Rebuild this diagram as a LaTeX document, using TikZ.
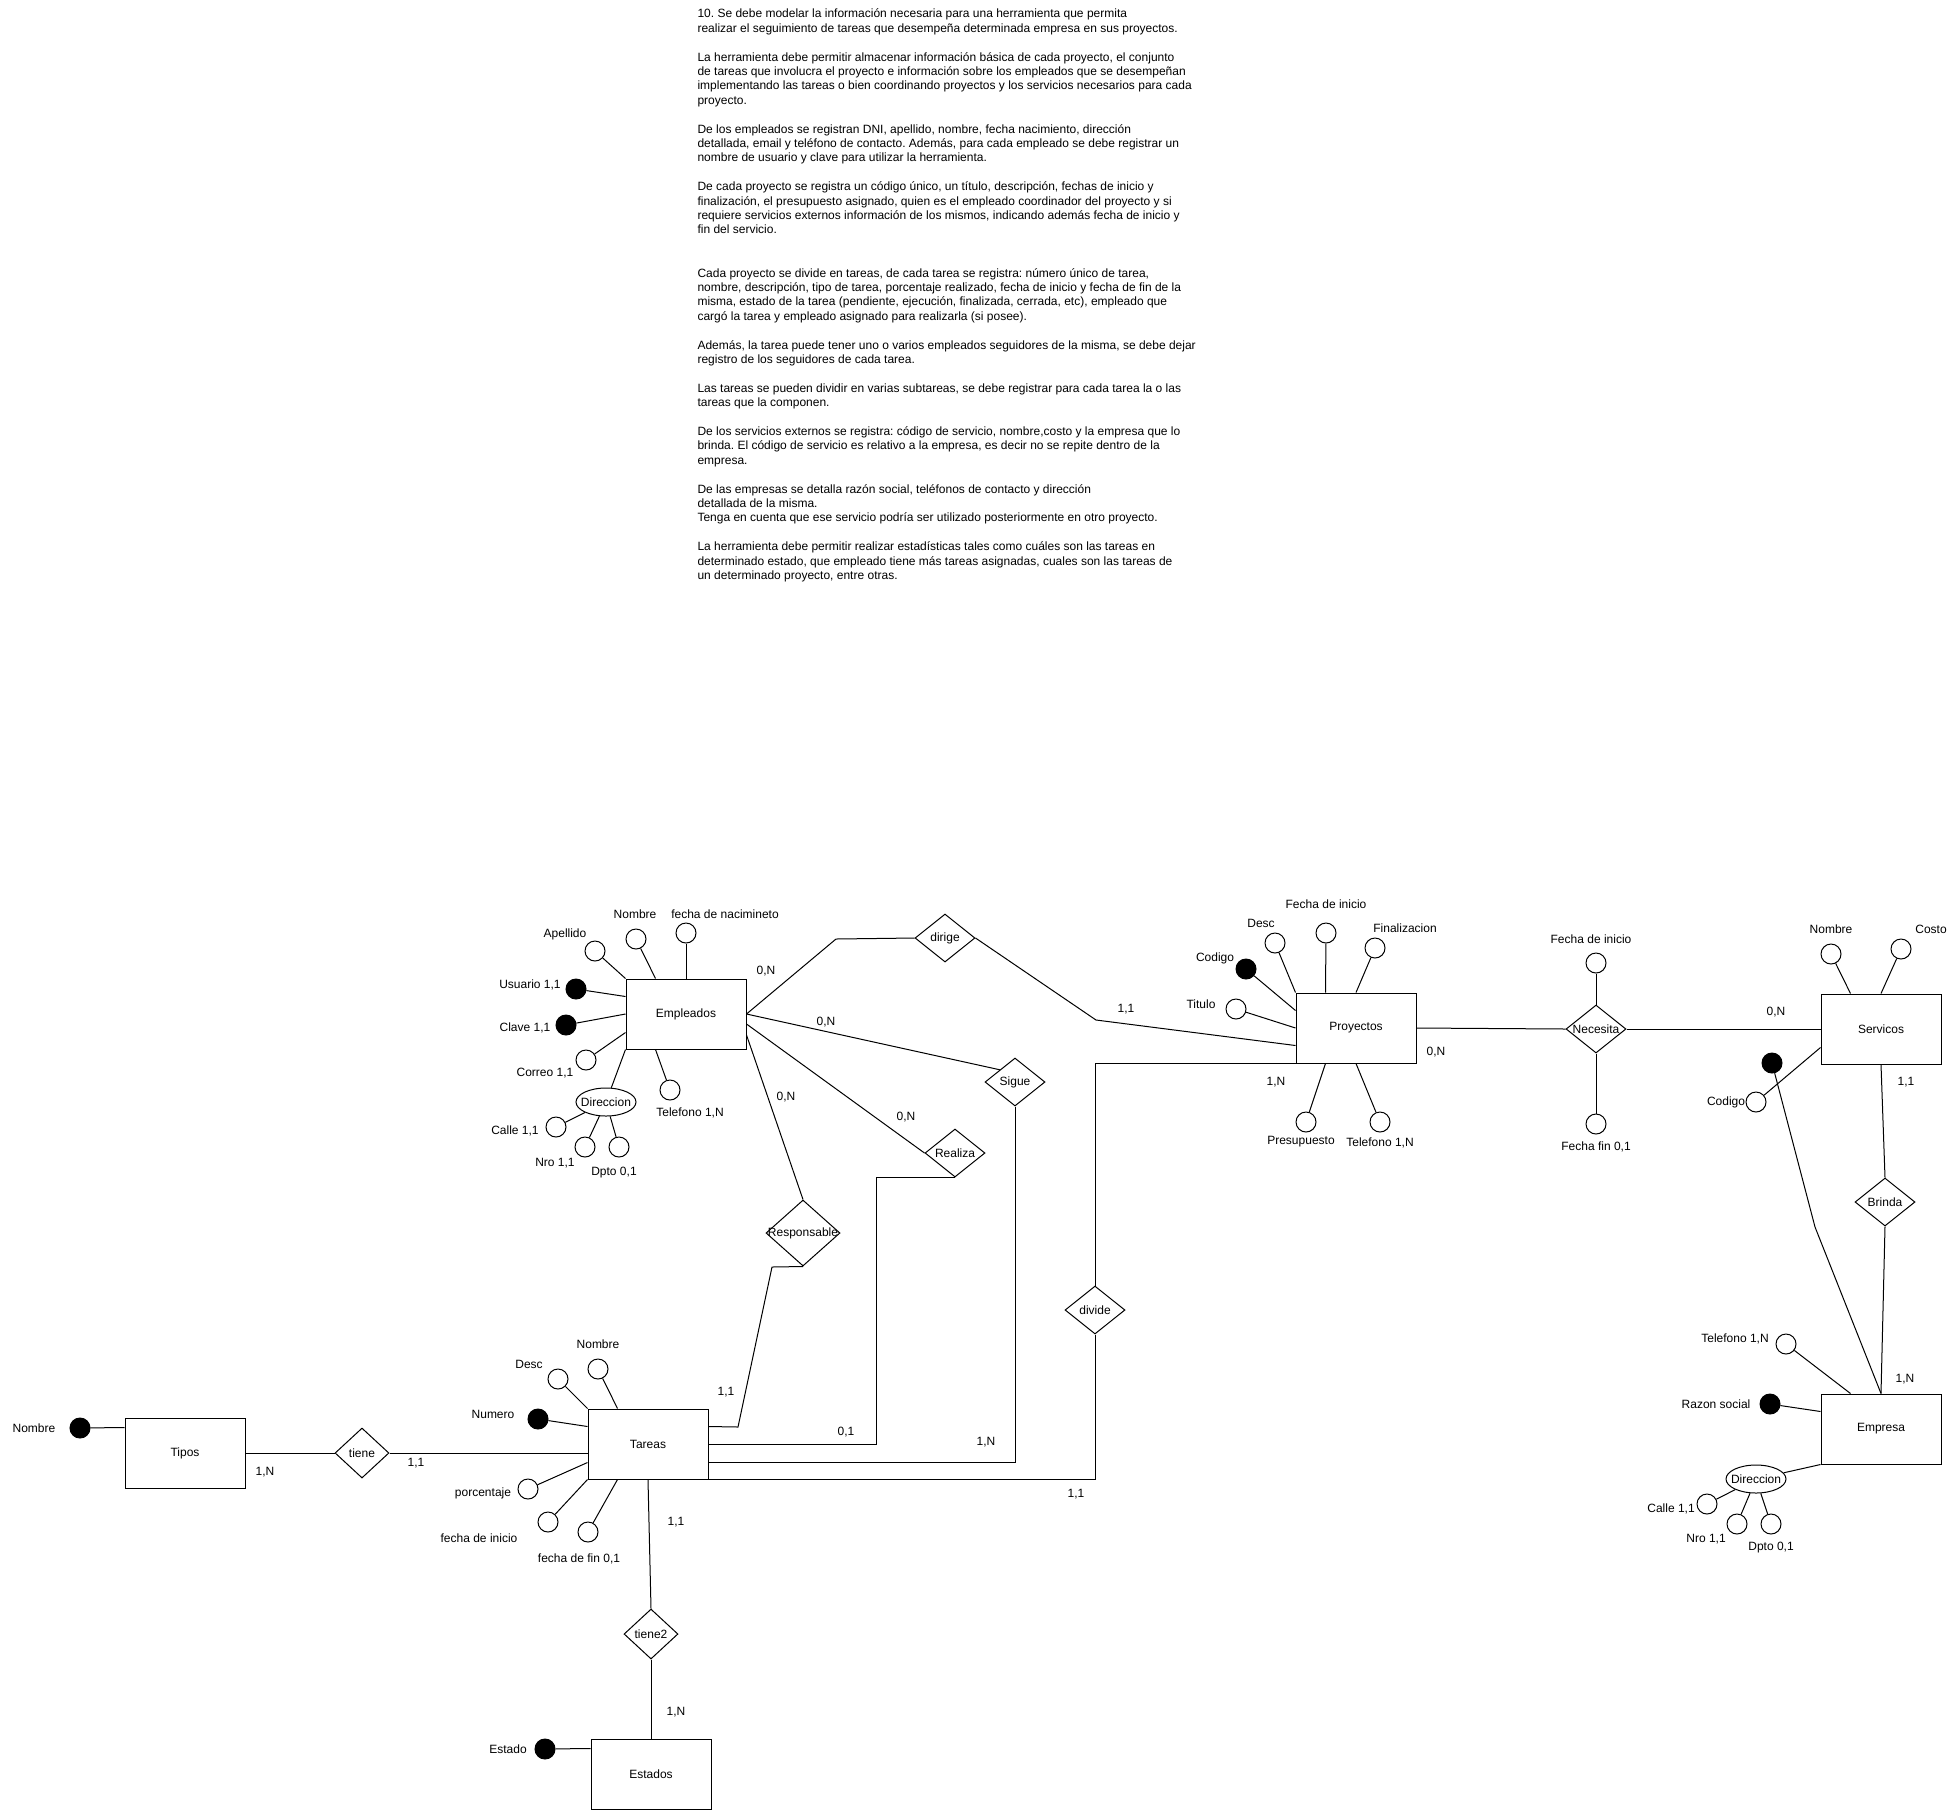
\documentclass[tikz,border=0pt]{standalone}
\usepackage{fontspec}
\setmainfont{Liberation Sans}
\usetikzlibrary{shapes.geometric,calc}
\frenchspacing
\begin{document}
\begin{tikzpicture}[x=0.75pt,y=-0.75pt,line width=0.75pt,
  every node/.style={font=\fontsize{9pt}{10.8pt}\selectfont, inner sep=0pt},
  entity/.style={draw, rectangle, minimum width=90pt, minimum height=52.5pt},
  rel/.style={draw, diamond, minimum width=45pt, minimum height=36pt},
  smallrel/.style={draw, diamond, minimum width=40.5pt, minimum height=37.5pt},
  attr/.style={draw, circle, minimum size=15pt},
  keyattr/.style={draw, circle, fill=black, minimum size=15pt},
  compattr/.style={draw, ellipse, minimum width=45pt, minimum height=21pt}
]
\fill[white] (0,0) rectangle (1956,1811);
\useasboundingbox (0,0) rectangle (1956,1811);

% ---------------- statement text ----------------
\node[anchor=north west, align=left] (enunciado) at (697,5.3) {\rule{0pt}{9pt}10. Se debe modelar la información necesaria para una herramienta que permita\\
realizar el seguimiento de tareas que desempeña determinada empresa en sus proyectos.\\[10.8pt]
La herramienta debe permitir almacenar información básica de cada proyecto, el conjunto\\
de tareas que involucra el proyecto e información sobre los empleados que se desempeñan\\
implementando las tareas o bien coordinando proyectos y los servicios necesarios para cada\\
proyecto.\\[10.8pt]
De los empleados se registran DNI, apellido, nombre, fecha nacimiento, dirección\\
detallada, email y teléfono de contacto. Además, para cada empleado se debe registrar un\\
nombre de usuario y clave para utilizar la herramienta.\\[10.8pt]
De cada proyecto se registra un código único, un título, descripción, fechas de inicio y\\
finalización, el presupuesto asignado, quien es el empleado coordinador del proyecto y si\\
requiere servicios externos información de los mismos, indicando además fecha de inicio y\\
fin del servicio.\\[21.6pt]
Cada proyecto se divide en tareas, de cada tarea se registra: número único de tarea,\\
nombre, descripción, tipo de tarea, porcentaje realizado, fecha de inicio y fecha de fin de la\\
misma, estado de la tarea (pendiente, ejecución, finalizada, cerrada, etc), empleado que\\
cargó la tarea y empleado asignado para realizarla (si posee).\\[10.8pt]
Además, la tarea puede tener uno o varios empleados seguidores de la misma, se debe dejar\\
registro de los seguidores de cada tarea.\\[10.8pt]
Las tareas se pueden dividir en varias subtareas, se debe registrar para cada tarea la o las\\
tareas que la componen.\\[10.8pt]
De los servicios externos se registra: código de servicio, nombre,costo y la empresa que lo\\
brinda. El código de servicio es relativo a la empresa, es decir no se repite dentro de la\\
empresa.\\[10.8pt]
De las empresas se detalla razón social, teléfonos de contacto y dirección\\
detallada de la misma.\\
Tenga en cuenta que ese servicio podría ser utilizado posteriormente en otro proyecto.\\[10.8pt]
La herramienta debe permitir realizar estadísticas tales como cuáles son las tareas en\\
determinado estado, que empleado tiene más tareas asignadas, cuales son las tareas de\\
un determinado proyecto, entre otras.};

% ---------------- entities ----------------
\node[entity] (emp) at (686,1014) {Empleados};
\node[entity] (proy) at (1356,1028) {Proyectos};
\node[entity] (serv) at (1881,1029) {Servicos};
\node[entity] (empr) at (1881,1429) {Empresa};
\node[entity] (tipos) at (185,1453) {Tipos};
\node[entity] (tareas) at (648,1444) {Tareas};
\node[entity] (estados) at (651,1774) {Estados};

% ---------------- relationships ----------------
\node[rel, label=center:dirige] (dirige) at (945,938) {};
\node[rel, label=center:Sigue] (sigue) at (1015,1082) {};
\node[rel, label=center:Realiza] (realiza) at (955,1153) {};
\node[rel, minimum width=55.5pt, minimum height=49.5pt, label=center:Responsable] (resp) at (803,1233) {};
\node[rel, label=center:divide] (divide) at (1095,1310) {};
\node[rel, label=center:Necesita] (necesita) at (1596,1029) {};
\node[rel, label=center:Brinda] (brinda) at (1885,1202) {};
\node[smallrel, label=center:tiene] (tiene) at (362,1453) {};
\node[smallrel, label=center:tiene2] (tiene2) at (651,1634) {};

% ---------------- Empleados attributes ----------------
\node[attr] (eape) at (595,951) {};
\node (leape) at (565,934) {Apellido};
\node[attr] (enom) at (636,939) {};
\node (lenom) at (635,914) {Nombre};
\node[attr] (efn) at (686,933) {};
\node (lefn) at (725,914) {fecha de nacimineto};
\node[keyattr] (eusu) at (576,989) {};
\node (leusu) at (530,985) {Usuario 1,1};
\node[keyattr] (ecla) at (566,1025) {};
\node (lecla) at (525,1028) {Clave 1,1};
\node[attr] (ecor) at (586,1060) {};
\node (lecor) at (545,1073) {Correo 1,1};
\node[compattr, label=center:Direccion] (edir) at (606,1102) {};
\node[attr] (etel) at (670,1090) {};
\node (letel) at (690,1113) {Telefono 1,N};
\node[attr] (ecal) at (556,1127) {};
\node (lecal) at (515,1131) {Calle 1,1};
\node[attr] (enro) at (585,1147) {};
\node (lenro) at (555,1163) {Nro 1,1};
\node[attr] (edpt) at (619,1147) {};
\node (ledpt) at (614,1173) {Dpto 0,1};

\draw (eape) -- (emp.north west);
\draw (enom) -- ([shift={(30,0)}]emp.north west);
\draw (efn) -- (emp.north);
\draw (eusu) -- ([shift={(0,18)}]emp.north west);
\draw (ecla) -- (emp.west);
\draw (ecor) -- ([shift={(0,-17)}]emp.south west);
\draw (edir) -- (emp.south west);
\draw (etel) -- ([shift={(30,0)}]emp.south west);
\draw (edir) -- (ecal);
\draw (edir) -- (enro);
\draw (edir) -- (edpt);

% ---------------- Proyectos attributes ----------------
\node[attr] (pdes) at (1275,943) {};
\node (lpdes) at (1261,923) {Desc};
\node[attr] (pfi) at (1326,933) {};
\node (lpfi) at (1326,904) {Fecha de inicio};
\node[attr] (pfin) at (1375,948) {};
\node (lpfin) at (1405,928) {Finalizacion};
\node[keyattr] (pcod) at (1246,969) {};
\node (lpcod) at (1215,958) {Codigo};
\node[attr] (ptit) at (1236,1009) {};
\node (lptit) at (1201,1004) {Titulo};
\node[attr] (ppre) at (1306,1122) {};
\node (lppre) at (1301,1142) {Presupuesto};
\node[attr] (ptel) at (1380,1122) {};
\node (lptel) at (1380,1143) {Telefono 1,N};

\draw (pdes) -- (proy.north west);
\draw (pfi) -- ([shift={(30,0)}]proy.north west);
\draw (pfin) -- (proy.north);
\draw (pcod) -- ([shift={(0,18)}]proy.north west);
\draw (ptit) -- (proy.west);
\draw (ppre) -- ([shift={(30,0)}]proy.south west);
\draw (ptel) -- (proy.south);

% ---------------- Necesita attributes ----------------
\node[attr] (nfi) at (1596,963) {};
\node (lnfi) at (1591,939) {Fecha de inicio};
\node[attr] (nff) at (1596,1124) {};
\node (lnff) at (1596,1147) {Fecha fin 0,1};
\draw (nfi) -- (necesita.north);
\draw (necesita.south) -- (nff);

% ---------------- Servicos attributes ----------------
\node[attr] (snom) at (1831,954) {};
\node (lsnom) at (1831,929) {Nombre};
\node[attr] (scos) at (1901,949) {};
\node (lscos) at (1931,929) {Costo};
\node[attr] (scod) at (1756,1102) {};
\node (lscod) at (1726,1102) {Codigo};
\node[keyattr] (skey) at (1772,1063) {};
\draw (snom) -- ([shift={(30,0)}]serv.north west);
\draw (scos) -- (serv.north);
\draw (scod) -- ([shift={(0,-17)}]serv.south west);

% ---------------- Empresa attributes ----------------
\node[attr] (ytel) at (1786,1344) {};
\node (lytel) at (1735,1339) {Telefono 1,N};
\node[keyattr] (yraz) at (1770,1404) {};
\node (lyraz) at (1716,1404) {Razon social};
\node[compattr, label=center:Direccion] (ydir) at (1756,1479) {};
\node[attr] (ycal) at (1707,1504) {};
\node (lycal) at (1671,1509) {Calle 1,1};
\node[attr] (ynro) at (1737,1524) {};
\node (lynro) at (1706,1539) {Nro 1,1};
\node[attr] (ydpt) at (1771,1524) {};
\node (lydpt) at (1771,1548) {Dpto 0,1};
\draw (ytel) -- ([shift={(30,0)}]empr.north west);
\draw (yraz) -- ([shift={(0,18)}]empr.north west);
\draw (ydir) -- (empr.south west);
\draw (ydir) -- (ycal);
\draw (ydir) -- (ynro);
\draw (ydir) -- (ydpt);

% ---------------- Tareas attributes ----------------
\node[attr] (tdes) at (558,1379) {};
\node (ltdes) at (529,1364) {Desc};
\node[attr] (tnom) at (598,1369) {};
\node (ltnom) at (598,1344) {Nombre};
\node[keyattr] (tnum) at (538,1419) {};
\node (ltnum) at (493,1414) {Numero};
\node[attr] (tpor) at (528,1489) {};
\node (ltpor) at (483,1493) {porcentaje};
\node[attr] (tfi) at (548,1522) {};
\node (ltfi) at (479,1538) {fecha de inicio};
\node[attr] (tff) at (588,1532) {};
\node (ltff) at (579,1559) {fecha de fin 0,1};
\draw (tdes) -- (tareas.north west);
\draw (tnom) -- ([shift={(30,0)}]tareas.north west);
\draw (tnum) -- ([shift={(0,18)}]tareas.north west);
\draw (tpor) -- ([shift={(0,-17)}]tareas.south west);
\draw (tfi) -- (tareas.south west);
\draw (tff) -- ([shift={(30,0)}]tareas.south west);

% ---------------- Tipos / Estados attributes ----------------
\node[keyattr] (tinom) at (80,1428) {};
\node (ltinom) at (34,1428) {Nombre};
\draw (tinom) -- ([shift={(0,10)}]tipos.north west);
\node[keyattr] (esta) at (545,1749) {};
\node (lesta) at (508,1749) {Estado};
\draw (esta) -- ([shift={(0,10)}]estados.north west);

% ---------------- relationship connectors ----------------
\draw (emp.east) -- (836,939) -- (dirige.west);
\draw (dirige.east) -- (1096,1020) -- ([shift={(0,-18)}]proy.south west);
\draw (emp.east) -- (sigue.north west);
\draw (sigue.south) |- ([shift={(0,-17)}]tareas.south east);
\draw ([shift={(0,10)}]emp.east) -- (realiza.west);
\draw (realiza.south) -| ([shift={(168,0)}]tareas.east) -- (tareas.east);
\draw ([shift={(0,21)}]emp.east) -- (resp.north);
\draw (resp.south) -- (772,1267) -- (738,1427) -- ([shift={(0,18)}]tareas.north east);
\draw (divide.north) |- (proy.south west);
\draw (divide.south) |- (tareas.south east);
\draw (proy.east) -- (necesita.west);
\draw (necesita.east) -- (serv.west);
\draw (serv.south) -- (brinda.north);
\draw (brinda.south) -- (empr.north);
\draw (skey) -- (1815,1227) -- (empr.north);
\draw (tipos.east) -- (tiene.west);
\draw (tiene.east) -- ([shift={(0,9)}]tareas.west);
\draw (tareas.south) -- (tiene2.north);
\draw (tiene2.south) -- (estados.north);

% ---------------- cardinalities ----------------
\node at (766,971) {0,N};
\node at (1126,1009) {1,1};
\node at (826,1022) {0,N};
\node at (906,1117) {0,N};
\node at (786,1097) {0,N};
\node at (726,1392) {1,1};
\node at (846,1432) {0,1};
\node at (986,1442) {1,N};
\node at (1076,1494) {1,1};
\node at (1276,1082) {1,N};
\node at (1436,1052) {0,N};
\node at (1776,1012) {0,N};
\node at (1906,1082) {1,1};
\node at (1905,1379) {1,N};
\node at (265,1472) {1,N};
\node at (416,1463) {1,1};
\node at (676,1522) {1,1};
\node at (676,1712) {1,N};
\end{tikzpicture}
\end{document}
